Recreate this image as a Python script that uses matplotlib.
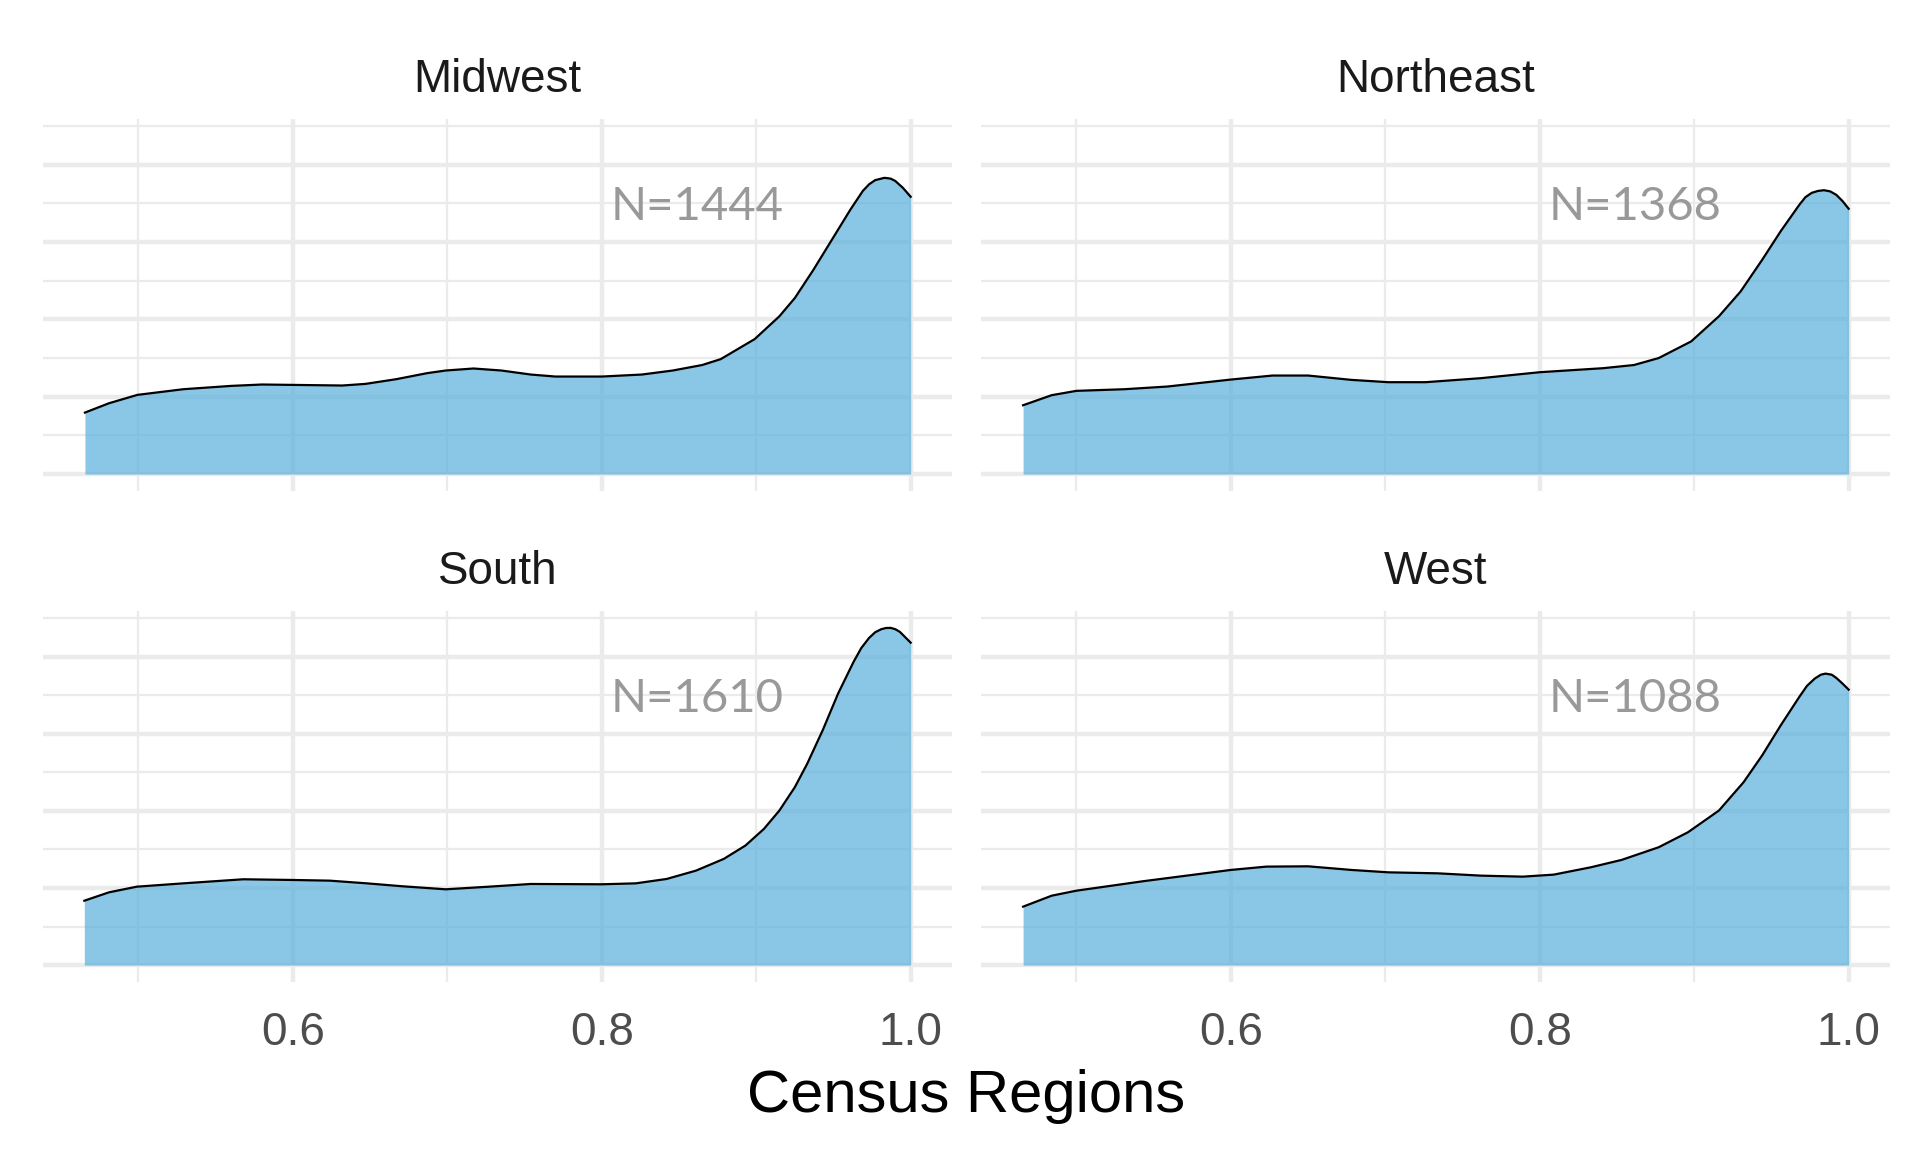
import matplotlib

matplotlib.use("Agg")
import matplotlib.pyplot as plt
import numpy as np

# density curves (x = share, y = density)
midwest_x = [0.4654, 0.481, 0.4994, 0.529, 0.560, 0.580, 0.600, 0.632, 0.647, 0.667,
             0.687, 0.699, 0.717, 0.735, 0.754, 0.770, 0.800, 0.826, 0.846, 0.865,
             0.877, 0.899, 0.915, 0.925, 0.937, 0.949, 0.961, 0.969, 0.973, 0.977,
             0.983, 0.987, 0.990, 0.995, 1.000]
midwest_y = [0.795, 0.916, 1.024, 1.097, 1.140, 1.158, 1.153, 1.145, 1.166, 1.227,
             1.305, 1.339, 1.365, 1.339, 1.287, 1.261, 1.261, 1.287, 1.339, 1.410,
             1.486, 1.745, 2.040, 2.276, 2.640, 3.030, 3.420, 3.660, 3.745, 3.800,
             3.830, 3.820, 3.790, 3.700, 3.585]

northeast_x = [0.4655, 0.484, 0.500, 0.531, 0.559, 0.600, 0.627, 0.650, 0.678, 0.702,
               0.726, 0.762, 0.800, 0.841, 0.861, 0.877, 0.898, 0.916, 0.930, 0.944,
               0.956, 0.968, 0.972, 0.976, 0.980, 0.984, 0.988, 0.992, 0.996, 1.000]
northeast_y = [0.890, 1.020, 1.076, 1.097, 1.132, 1.222, 1.274, 1.274, 1.218, 1.188,
               1.188, 1.240, 1.317, 1.369, 1.410, 1.500, 1.715, 2.040, 2.360, 2.770,
               3.140, 3.480, 3.580, 3.635, 3.660, 3.670, 3.655, 3.610, 3.530, 3.430]

south_x = [0.465, 0.481, 0.499, 0.529, 0.568, 0.600, 0.624, 0.648, 0.671, 0.699,
           0.727, 0.754, 0.800, 0.822, 0.842, 0.861, 0.879, 0.893, 0.905, 0.915,
           0.925, 0.933, 0.943, 0.953, 0.963, 0.968, 0.973, 0.977, 0.981, 0.984,
           0.987, 0.990, 0.993, 0.996, 1.000]
south_y = [0.835, 0.944, 1.017, 1.060, 1.113, 1.104, 1.095, 1.060, 1.022, 0.983,
           1.017, 1.052, 1.048, 1.060, 1.117, 1.225, 1.377, 1.550, 1.766, 2.004,
           2.307, 2.610, 3.043, 3.520, 3.930, 4.110, 4.240, 4.315, 4.355, 4.370,
           4.372, 4.355, 4.320, 4.260, 4.180]

west_x = [0.4655, 0.484, 0.500, 0.543, 0.600, 0.623, 0.650, 0.678, 0.702, 0.734,
          0.762, 0.789, 0.809, 0.833, 0.853, 0.877, 0.896, 0.916, 0.932, 0.944,
          0.956, 0.968, 0.973, 0.978, 0.982, 0.985, 0.989, 0.992, 0.996, 1.000]
west_y = [0.758, 0.900, 0.965, 1.087, 1.234, 1.277, 1.281, 1.234, 1.203, 1.190,
          1.160, 1.147, 1.173, 1.268, 1.364, 1.528, 1.723, 2.004, 2.372, 2.719,
          3.108, 3.476, 3.620, 3.714, 3.765, 3.779, 3.765, 3.723, 3.650, 3.571]

regions = ["Midwest", "Northeast", "South", "West"]
counts = [1444, 1368, 1610, 1088]
curves_x = [midwest_x, northeast_x, south_x, west_x]
curves_y = [midwest_y, northeast_y, south_y, west_y]

x_major = [0.6, 0.8, 1.0]
x_minor = [0.5, 0.7, 0.9]
y_major = [0, 1, 2, 3, 4]
y_minor = [0.5, 1.5, 2.5, 3.5, 4.5]

W, H = 1920, 1152
# panel boxes in pixels: left, top, right, bottom
boxes = [
  (43, 119, 952, 491),
  (981, 119, 1890, 491),
  (43, 611, 952, 982),
  (981, 611, 1890, 982),
]

FILL = "#58B0DC"
GRID = "#EBEBEB"
plt.rcParams["font.family"] = ["Liberation Sans", "DejaVu Sans"]

fig = plt.figure(figsize=(W / 100, H / 100), dpi=100)

all_x = np.concatenate([np.asarray(c) for c in curves_x])
all_y = np.concatenate([np.asarray(c) for c in curves_y])
x_lo, x_hi = all_x.min(), all_x.max()
x_pad = 0.05 * (x_hi - x_lo)
y_hi = all_y.max()
y_pad = 0.05 * y_hi

for i, (name, n, xs, ys) in enumerate(zip(regions, counts, curves_x, curves_y)):
  left, top, right, bottom = boxes[i]
  ax = fig.add_axes([left / W, 1 - bottom / H, (right - left) / W, (bottom - top) / H])
  ax.set_xlim(x_lo - x_pad, x_hi + x_pad)
  ax.set_ylim(-y_pad, y_hi + y_pad)
  ax.set_xticks(x_major)
  ax.set_xticks(x_minor, minor=True)
  ax.set_yticks(y_major)
  ax.set_yticks(y_minor, minor=True)
  ax.grid(True, which="major", color=GRID, linewidth=3.2)
  ax.grid(True, which="minor", color=GRID, linewidth=1.6)
  ax.set_axisbelow(True)
  for spine in ax.spines.values():
    spine.set_visible(False)
  ax.tick_params(which="both", length=0)
  ax.set_yticklabels([])
  if i >= 2:
    ax.set_xticklabels([f"{v:.1f}" for v in x_major])
    ax.tick_params(axis="x", labelsize=33, labelcolor="#4D4D4D", pad=21)
  else:
    ax.set_xticklabels([])

  ax.fill_between(xs, ys, 0, color=FILL, alpha=0.7, linewidth=0)
  ax.plot(xs, ys, color="black", linewidth=1.6, solid_joinstyle="round")
  ax.text(0.862, 3.45, f"N={n}", ha="center", va="center", fontsize=34,
          color="#999999", family=["Lato", "DejaVu Sans"])

  fig.text((left + right) / 2 / W, 1 - (top - 26.7) / H, name, ha="center",
           va="baseline", fontsize=33, color="#1A1A1A")

fig.text((43 + 1890) / 2 / W, 1 - 1111.7 / H, "Census Regions", ha="center",
         va="baseline", fontsize=43, color="black")

fig.savefig("out.png", dpi=100, facecolor="white")
